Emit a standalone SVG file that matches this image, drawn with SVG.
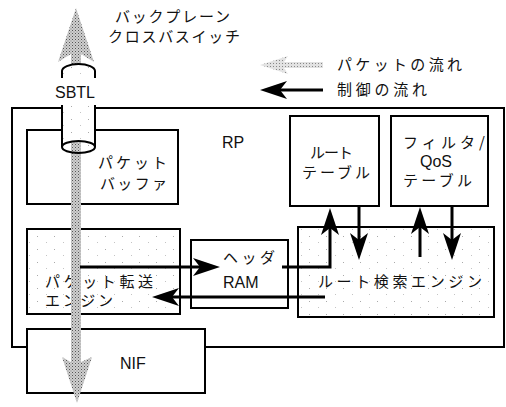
<svg xmlns="http://www.w3.org/2000/svg" width="506" height="407" viewBox="0 0 506 407">
<style>
.box{fill:#fff;stroke:#000;stroke-width:2}
.jp{font-family:"Noto Sans CJK JP","Noto Sans",sans-serif;font-size:15px;fill:#111}
.en{font-family:"Liberation Sans",Arial,sans-serif;font-size:16px;fill:#111}
.ctl{fill:none;stroke:#000;stroke-width:3}
</style>
<defs>
<pattern id="ht" width="3" height="3" patternUnits="userSpaceOnUse">
<rect width="3" height="3" fill="#cfcfcf"/><rect width="1" height="1" fill="#555"/><rect x="1.5" y="1.5" width="1" height="1" fill="#808080"/>
</pattern>
<pattern id="htl" width="3" height="3" patternUnits="userSpaceOnUse">
<rect width="3" height="3" fill="#e2e2e2"/><rect width="1" height="1" fill="#888"/>
</pattern>
<pattern id="sp" width="17" height="13" patternUnits="userSpaceOnUse">
<rect width="17" height="13" fill="#fff"/><rect x="3" y="2" width="1" height="1" fill="#aaa"/><rect x="12" y="8" width="1" height="1" fill="#c4c4c4"/>
</pattern>
<marker id="ah" viewBox="-28 -10 28 20" refX="-10" refY="0" markerWidth="28" markerHeight="20" markerUnits="userSpaceOnUse" orient="auto">
<path d="M0,0 L-27,-9 L-20,0 L-27,9 Z" fill="#000"/>
</marker>
</defs>

<text class="jp" x="115" y="22" textLength="115">バックプレーン</text>
<text class="jp" x="108" y="42" textLength="132">クロスバスイッチ</text>

<g id="legend">
<rect x="282" y="62" width="41" height="6" fill="url(#htl)"/>
<path d="M260,65 L288,56 L282,65 L288,74 Z" fill="url(#htl)"/>
<text class="jp" x="337" y="70" textLength="125">パケットの流れ</text>
<text class="jp" x="337" y="95" textLength="90">制御の流れ</text>
</g>

<g id="rp">
<rect class="box" x="12" y="108" width="492" height="239"/>
<text class="en" x="222" y="148">RP</text>
</g>
<g id="packet-buffer">
<rect class="box" x="27" y="130" width="151" height="74"/>
<text class="jp" x="98" y="168" textLength="69">パケット</text>
<text class="jp" x="100" y="189" textLength="67">バッファ</text>
</g>
<g id="route-table">
<rect class="box" x="290" y="116" width="89" height="90"/>
<text class="jp" x="310" y="158" textLength="43">ルート</text>
<text class="jp" x="302" y="178" textLength="68">テーブル</text>
</g>
<g id="filter-qos">
<rect class="box" x="391" y="116" width="97" height="90"/>
<text class="jp" x="403" y="148" textLength="82">フィルタ/</text>
<text class="en" x="420" y="167">QoS</text>
<text class="jp" x="403" y="186" textLength="69">テーブル</text>
</g>
<g id="packet-engine">
<rect class="box" x="27" y="229" width="153" height="85" style="fill:url(#sp)"/>
<text class="jp" x="45" y="287" textLength="108">パケット転送</text>
<text class="jp" x="45" y="306" textLength="68">エンジン</text>
</g>
<g id="header-ram">
<rect class="box" x="191" y="240" width="97" height="68"/>
<text class="jp" x="223" y="263" textLength="52">ヘッダ</text>
<text class="en" x="223" y="288">RAM</text>
</g>
<g id="route-search">
<rect class="box" x="298" y="227" width="196" height="90" style="fill:url(#sp)"/>
<text class="jp" x="318" y="287" textLength="164">ルート検索エンジン</text>
</g>
<g id="nif">
<rect class="box" x="27" y="329" width="178" height="64"/>
<text class="en" x="120" y="369">NIF</text>
</g>

<g id="packet-flow">
<path d="M76,8 L94,62 L81,54 L71,54 L58,62 Z" fill="url(#ht)"/>
<rect x="71" y="52" width="10" height="20" fill="url(#ht)"/>
<rect x="71" y="142" width="10" height="220" fill="url(#ht)"/>
<path d="M62,357 L71,362 L81,362 L92,357 L77,403 Z" fill="url(#ht)"/>
</g>

<g id="sbtl">
<rect x="62" y="70" width="33" height="77" style="fill:url(#sp)"/>
<path d="M62,78 V71 A16.5,7 0 0 1 95,71 V78" fill="url(#sp)" stroke="#000" stroke-width="2"/>
<rect x="61" y="78" width="35" height="27" fill="#fff"/>
<path d="M62,105 V147 M95,105 V147" stroke="#000" stroke-width="2" fill="none"/>
<rect x="71" y="141" width="10" height="8" fill="url(#ht)"/>
<ellipse cx="78.5" cy="147" rx="16.5" ry="6" fill="none" stroke="#000" stroke-width="2"/>
<text class="en" x="55" y="98">SBTL</text>
</g>

<g id="connectors">
<path class="ctl" d="M323,90 H270" marker-end="url(#ah)"/>
<path class="ctl" d="M80,267 H210" marker-end="url(#ah)"/>
<path class="ctl" d="M325,297 H162" marker-end="url(#ah)"/>
<path class="ctl" d="M282,267 H330 V218" marker-end="url(#ah)"/>
<path class="ctl" d="M359,206 V250" marker-end="url(#ah)"/>
<path class="ctl" d="M420,257 V217" marker-end="url(#ah)"/>
<path class="ctl" d="M452,206 V250" marker-end="url(#ah)"/>
</g>
</svg>
